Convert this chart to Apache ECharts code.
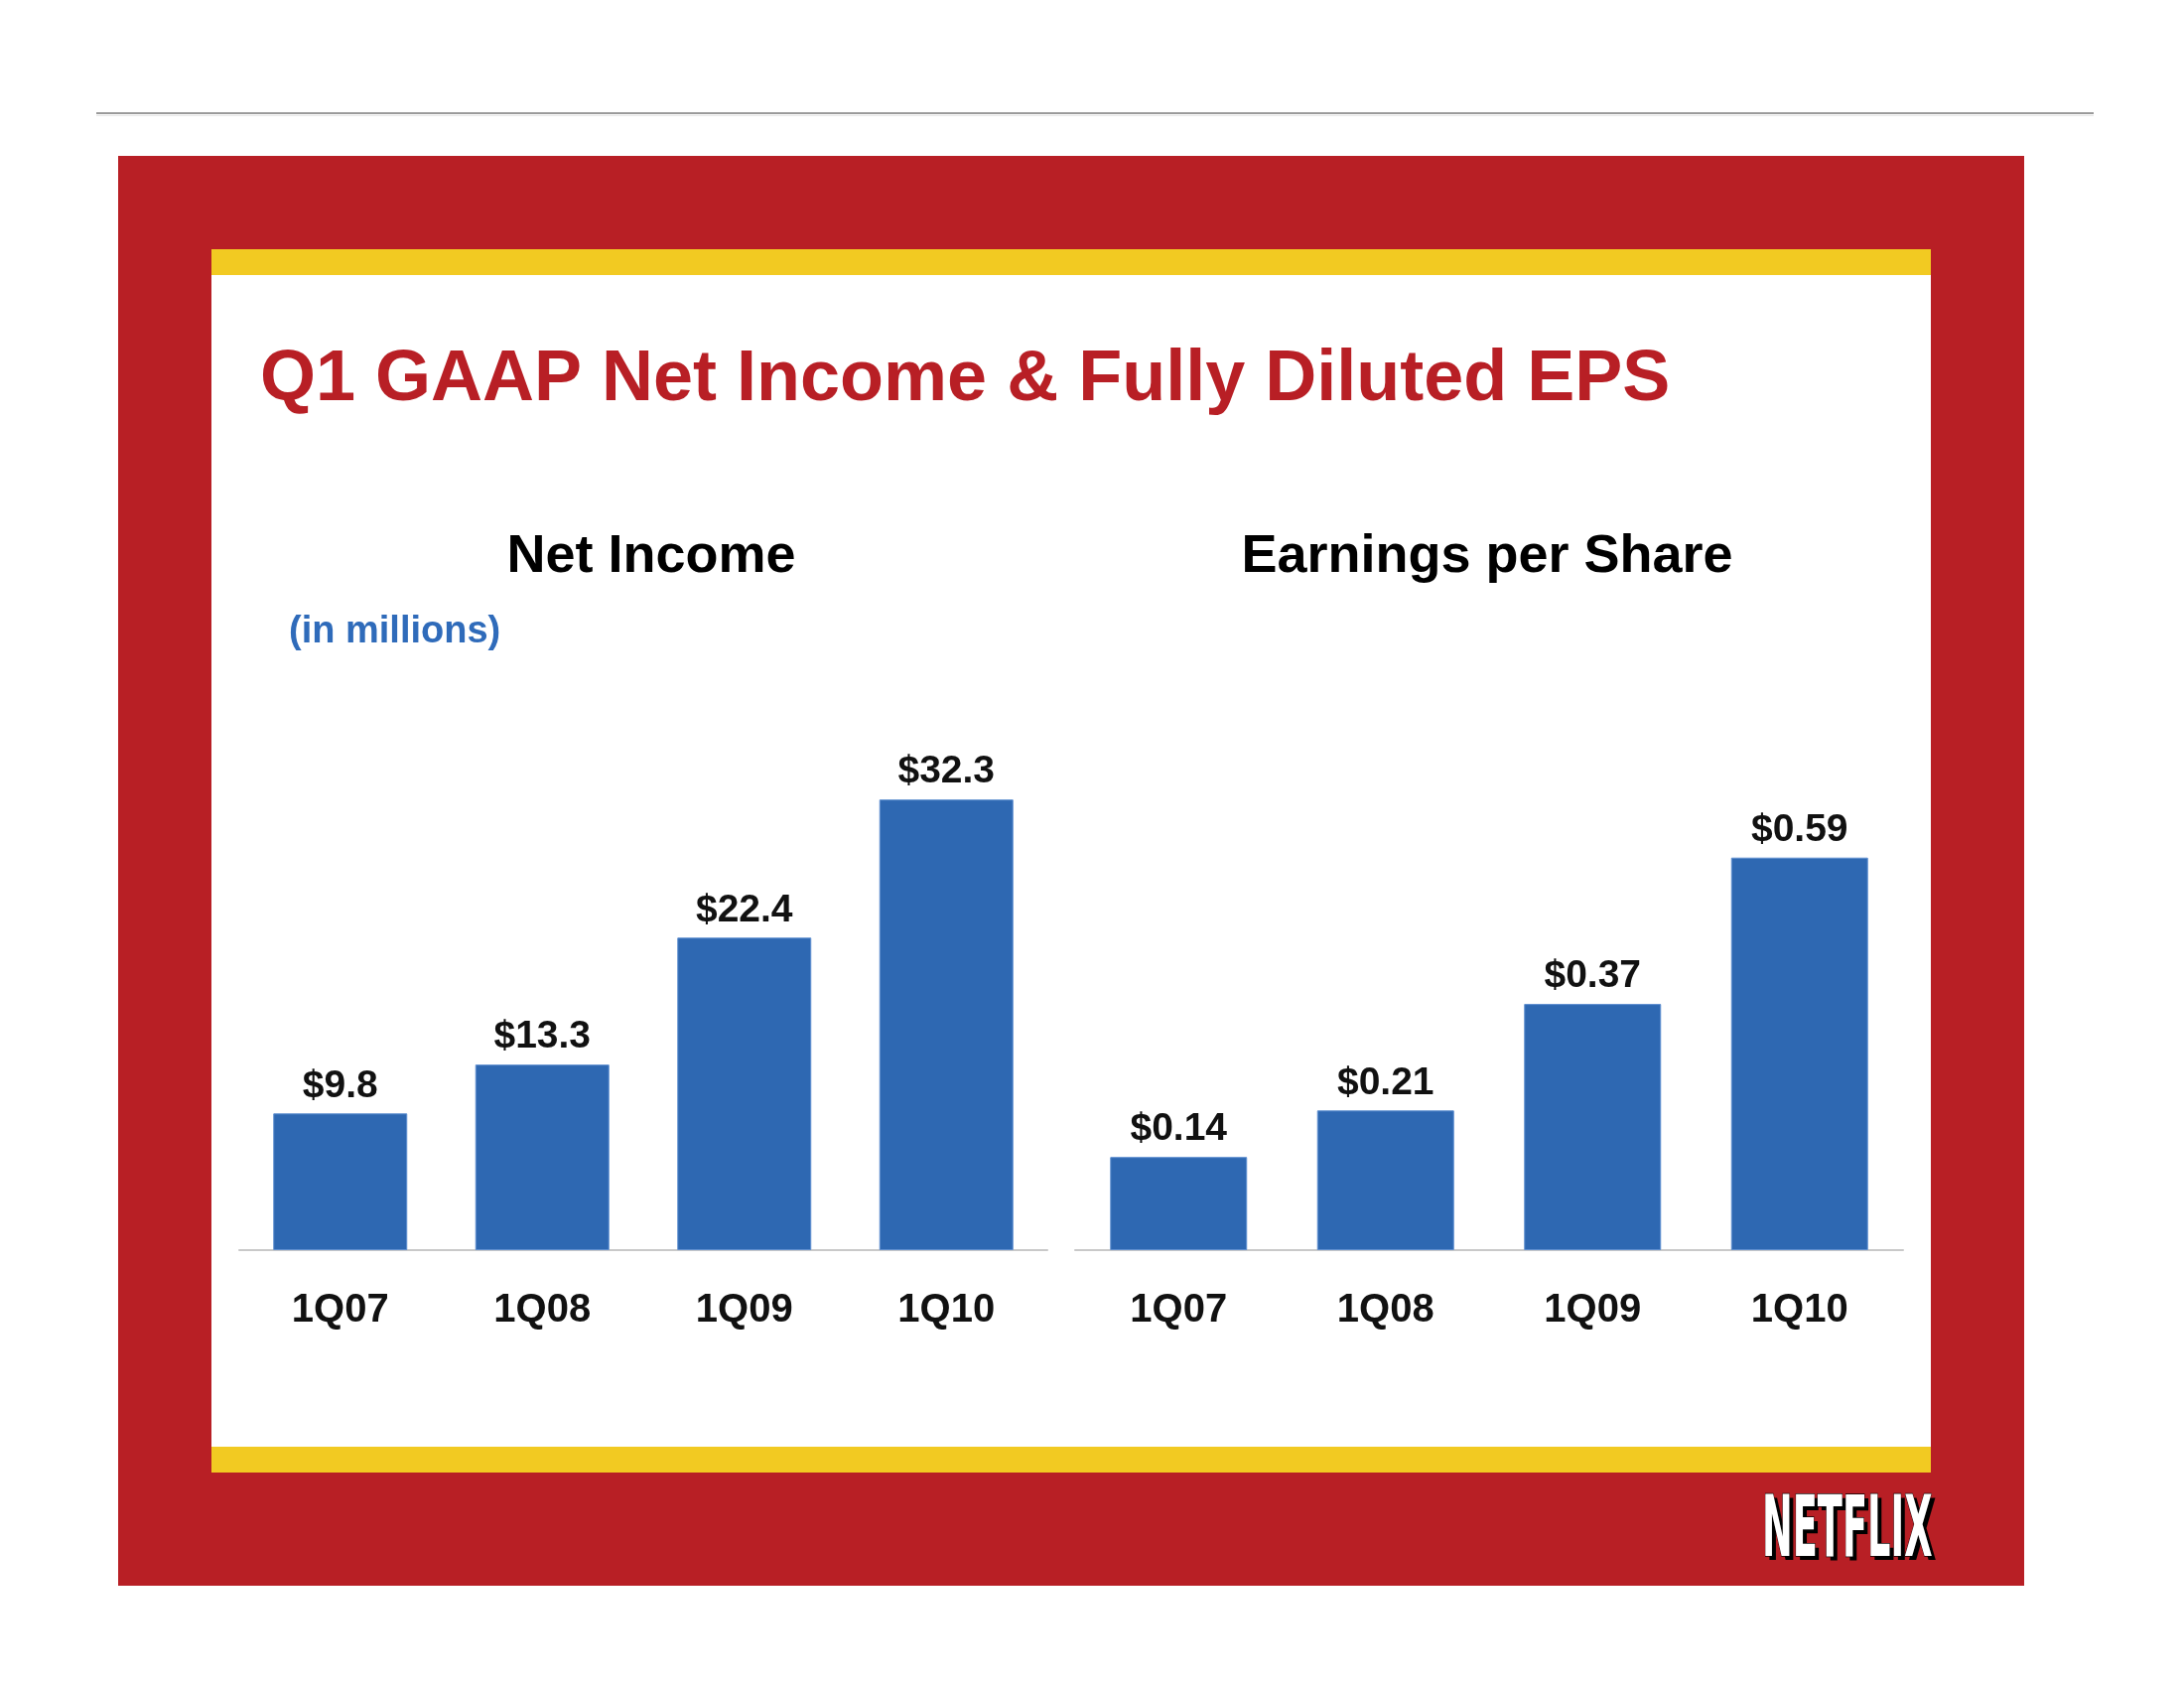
<!DOCTYPE html>
<html>
<head>
<meta charset="utf-8">
<script src="https://cdn.jsdelivr.net/npm/echarts@6/dist/echarts.min.js"></script>
<style>
  html, body { margin: 0; padding: 0; background: #ffffff; }
  #chart { width: 2200px; height: 1700px; }
</style>
</head>
<body>
<div id="chart"></div>
<script>
// ---- Data ----
const categories = ['1Q07', '1Q08', '1Q09', '1Q10'];
const netIncome = [9.8, 13.3, 22.4, 32.3];      // $ millions
const eps = [0.14, 0.21, 0.37, 0.59];           // $ per share
const mainTitle = 'Q1 GAAP Net Income & Fully Diluted EPS';
const leftTitle = 'Net Income';
const rightTitle = 'Earnings per Share';
const unitNote = '(in millions)';

const FONT = '"Liberation Sans", Arial, Helvetica, sans-serif';
const RED = '#B81F25';
const YELLOW = '#F2CA22';
const BLUE = '#2E68B2';

const chart = echarts.init(document.getElementById('chart'), null, { renderer: 'canvas' });

function xAxisFor(idx) {
  return {
    type: 'category',
    gridIndex: idx,
    data: categories,
    axisLine: { show: true, lineStyle: { color: '#c9c9c9', width: 2 } },
    axisTick: { show: false },
    axisLabel: { margin: 41, fontSize: 40, fontWeight: 'bold', color: '#111', fontFamily: FONT }
  };
}
function yAxisFor(idx, max) {
  return { type: 'value', gridIndex: idx, min: 0, max: max, show: false, splitLine: { show: false } };
}
function barSeries(idx, data, width, decimals) {
  return {
    type: 'bar',
    xAxisIndex: idx,
    yAxisIndex: idx,
    data: data,
    barWidth: width,
    itemStyle: { color: BLUE, borderColor: '#5f8fd0', borderWidth: 1 },
    label: {
      show: true,
      position: 'top',
      distance: 8,
      fontSize: 39,
      fontWeight: 'bold',
      color: '#111',
      fontFamily: FONT,
      formatter: p => '$' + p.value.toFixed(decimals)
    },
    animation: false
  };
}

const option = {
  animation: false,
  backgroundColor: '#ffffff',
  grid: [
    { left: 241, top: 697, width: 814, height: 562 },
    { left: 1083, top: 723, width: 834, height: 536 }
  ],
  xAxis: [xAxisFor(0), xAxisFor(1)],
  yAxis: [yAxisFor(0, 40), yAxisFor(1, 0.8)],
  series: [barSeries(0, netIncome, 135, 1), barSeries(1, eps, 138, 2)],
  graphic: [
    { type: 'line', z: -20, shape: { x1: 97, y1: 114, x2: 2109, y2: 114 }, style: { stroke: '#9a9a9a', lineWidth: 2 } },
    { type: 'line', z: -20, shape: { x1: 97, y1: 116.5, x2: 2109, y2: 116.5 }, style: { stroke: '#e6e6e6', lineWidth: 1 } },
    { type: 'rect', z: -20, shape: { x: 119, y: 157, width: 1920, height: 1440 }, style: { fill: RED } },
    { type: 'rect', z: -19, shape: { x: 213, y: 251, width: 1732, height: 26 }, style: { fill: YELLOW } },
    { type: 'rect', z: -19, shape: { x: 213, y: 277, width: 1732, height: 1180 }, style: { fill: '#ffffff' } },
    { type: 'rect', z: -19, shape: { x: 213, y: 1457, width: 1732, height: 26 }, style: { fill: YELLOW } },
    { type: 'text', z: 10, x: 262, y: 383,
      style: { text: mainTitle, font: 'bold 72px ' + FONT, fill: RED, align: 'left', verticalAlign: 'middle' } },
    { type: 'text', z: 10, x: 656, y: 561,
      style: { text: leftTitle, font: 'bold 54px ' + FONT, fill: '#000', align: 'center', verticalAlign: 'middle' } },
    { type: 'text', z: 10, x: 1498, y: 561,
      style: { text: rightTitle, font: 'bold 54px ' + FONT, fill: '#000', align: 'center', verticalAlign: 'middle' } },
    { type: 'text', z: 10, x: 291, y: 637,
      style: { text: unitNote, font: 'bold 38px ' + FONT, fill: '#2F6BBA', align: 'left', verticalAlign: 'middle' } },
    // NETFLIX logo (shadow + face)
    { type: 'text', z: 10, x: 1779, y: 1549, scaleX: 0.475,
      style: { text: 'NETFLIX', font: 'bold 86px "Liberation Sans Narrow", "DejaVu Sans Condensed", ' + FONT, fill: '#000', align: 'left', verticalAlign: 'middle' } },
    { type: 'text', z: 11, x: 1775, y: 1545, scaleX: 0.475,
      style: { text: 'NETFLIX', font: 'bold 86px "Liberation Sans Narrow", "DejaVu Sans Condensed", ' + FONT, fill: '#fff', stroke: '#000', lineWidth: 1.5, align: 'left', verticalAlign: 'middle' } }
  ]
};
chart.setOption(option);
</script>
</body>
</html>
